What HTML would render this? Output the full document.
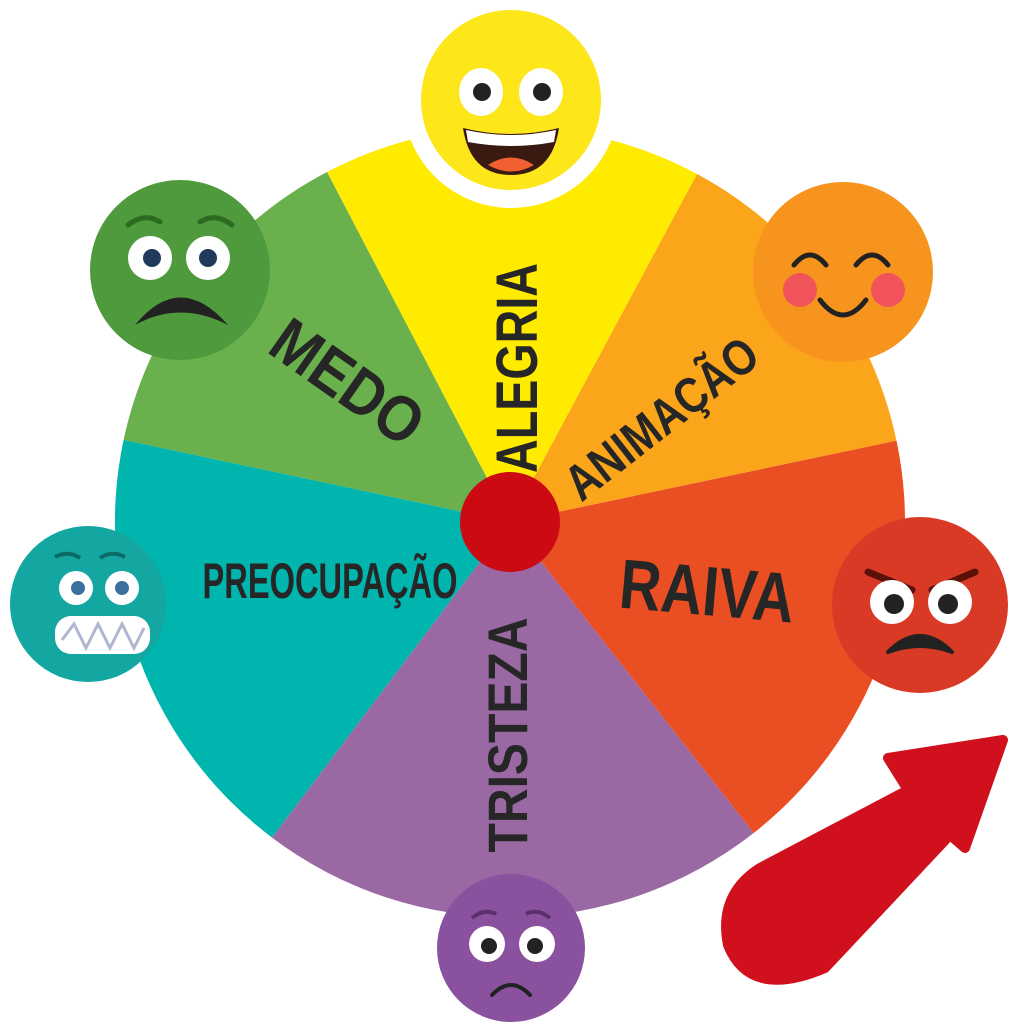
<!DOCTYPE html>
<html><head><meta charset="utf-8"><style>html,body{margin:0;padding:0;background:#fff}svg{display:block}text{font-family:"Liberation Sans",sans-serif;font-weight:bold;fill:#262626}</style></head>
<body>
<svg width="1024" height="1024" viewBox="0 0 1024 1024">
<path d="M510 522 L697 174 A395 395 0 0 0 327 172 Z" fill="#ffeb00"/>
<path d="M510 522 L327 172 A395 395 0 0 0 123.6 439.9 Z" fill="#6ab04c"/>
<path d="M510 522 L123.6 439.9 A395 395 0 0 0 272 837.6 Z" fill="#00b5ad"/>
<path d="M510 522 L272 837.6 A395 395 0 0 0 753.7 833 Z" fill="#9a69a4"/>
<path d="M510 522 L753.7 833 A395 395 0 0 0 896.5 440.6 Z" fill="#ea4e23"/>
<path d="M510 522 L896.5 440.6 A395 395 0 0 0 697 174 Z" fill="#fba51a"/>
<circle cx="510" cy="522" r="50" fill="#cc0a14"/>
<circle cx="511" cy="100" r="108" fill="#fff"/>

<text transform="translate(537,368) rotate(-90)" font-size="58" text-anchor="middle" textLength="210" lengthAdjust="spacingAndGlyphs">ALEGRIA</text>
<text transform="translate(335,400) rotate(35)" font-size="64" text-anchor="middle" textLength="170" lengthAdjust="spacingAndGlyphs">MEDO</text>
<text transform="translate(672,432) rotate(-38)" font-size="50" text-anchor="middle" textLength="230" lengthAdjust="spacingAndGlyphs">ANIMAÇÃO</text>
<text transform="translate(705,615) rotate(5)" font-size="70" text-anchor="middle" textLength="175" lengthAdjust="spacingAndGlyphs">RAIVA</text>
<text transform="translate(527,735) rotate(-90)" font-size="56" text-anchor="middle" textLength="235" lengthAdjust="spacingAndGlyphs">TRISTEZA</text>
<text x="330" y="598" font-size="50" text-anchor="middle" textLength="255" lengthAdjust="spacingAndGlyphs">PREOCUPAÇÃO</text>

<circle cx="511" cy="100" r="90" fill="#fde61a"/>
<ellipse cx="481" cy="92" rx="22" ry="24" fill="#fff"/><ellipse cx="541" cy="92" rx="22" ry="24" fill="#fff"/>
<circle cx="482" cy="92" r="9" fill="#222"/><circle cx="542" cy="92" r="9" fill="#222"/>
<path d="M463 128 Q511 140 559 128 Q552 175 511 175 Q470 175 463 128 Z" fill="#3a1a10"/>
<path d="M466 130 Q511 140 556 130 L554 142 Q511 150 468 142 Z" fill="#fff"/>
<path d="M488 165 Q511 150 534 165 Q511 178 488 165Z" fill="#f06030"/>

<circle cx="843" cy="272" r="90" fill="#f7941d"/>
<circle cx="800" cy="290" r="17" fill="#f2545b"/><circle cx="888" cy="290" r="17" fill="#f2545b"/>
<path d="M794 265 Q810 245 826 265" stroke="#222" stroke-width="5" fill="none" stroke-linecap="round"/>
<path d="M856 265 Q872 245 888 265" stroke="#222" stroke-width="5" fill="none" stroke-linecap="round"/>
<path d="M820 300 Q843 330 866 300" stroke="#222" stroke-width="5" fill="none" stroke-linecap="round"/>

<circle cx="180" cy="270" r="90" fill="#4e9a3d"/>
<path d="M128 225 Q145 212 160 222 M200 222 Q215 212 232 225" stroke="#2d6b22" stroke-width="5" fill="none" stroke-linecap="round"/>
<circle cx="150" cy="258" r="22" fill="#fff"/><circle cx="208" cy="258" r="22" fill="#fff"/>
<circle cx="152" cy="258" r="9" fill="#1f3a5a"/><circle cx="208" cy="258" r="9" fill="#1f3a5a"/>
<path d="M135 325 Q180 270 228 325 Q180 300 135 325Z" fill="#222"/>

<circle cx="88" cy="604" r="78" fill="#14a6a0"/>
<path d="M55 557 Q68 550 80 558 M100 558 Q112 550 125 557" stroke="#0b6b66" stroke-width="4" fill="none"/>
<circle cx="76" cy="588" r="17" fill="#fff"/><circle cx="122" cy="588" r="17" fill="#fff"/>
<circle cx="78" cy="588" r="7" fill="#3a6fa0"/><circle cx="122" cy="588" r="7" fill="#3a6fa0"/>
<rect x="55" y="616" width="95" height="38" rx="16" fill="#fff"/>
<path d="M62 640 L74 624 L86 648 L98 624 L110 648 L122 624 L134 648 L144 628" stroke="#b0b8d0" stroke-width="3" fill="none"/>

<circle cx="920" cy="605" r="88" fill="#d93a26"/>
<path d="M868 572 L912 590 M975 572 L932 590" stroke="#5a1208" stroke-width="7" stroke-linecap="round"/>
<circle cx="892" cy="602" r="22" fill="#fff"/><circle cx="950" cy="602" r="22" fill="#fff"/>
<circle cx="894" cy="604" r="10" fill="#222"/><circle cx="948" cy="604" r="10" fill="#222"/>
<path d="M888 652 Q920 620 952 652 Q920 640 888 652Z" fill="#222" stroke="#222" stroke-width="4" stroke-linejoin="round"/>

<circle cx="511" cy="948" r="74" fill="#8a529e"/>
<path d="M472 918 Q484 908 496 914 M526 914 Q538 908 550 918" stroke="#5a2f6a" stroke-width="4" fill="none"/>
<circle cx="487" cy="944" r="18" fill="#fff"/><circle cx="537" cy="944" r="18" fill="#fff"/>
<circle cx="489" cy="946" r="8" fill="#222"/><circle cx="535" cy="946" r="8" fill="#222"/>
<path d="M492 995 Q511 975 530 995" stroke="#222" stroke-width="4" fill="none" stroke-linecap="round"/>

<path d="M1003 740 L888 758 L908 790 L760 868 Q718 895 728 945 Q750 1000 825 968 L950 835 L965 848 Z" fill="#d0101c" stroke="#d0101c" stroke-width="10" stroke-linejoin="round"/>
</svg>
</body></html>
